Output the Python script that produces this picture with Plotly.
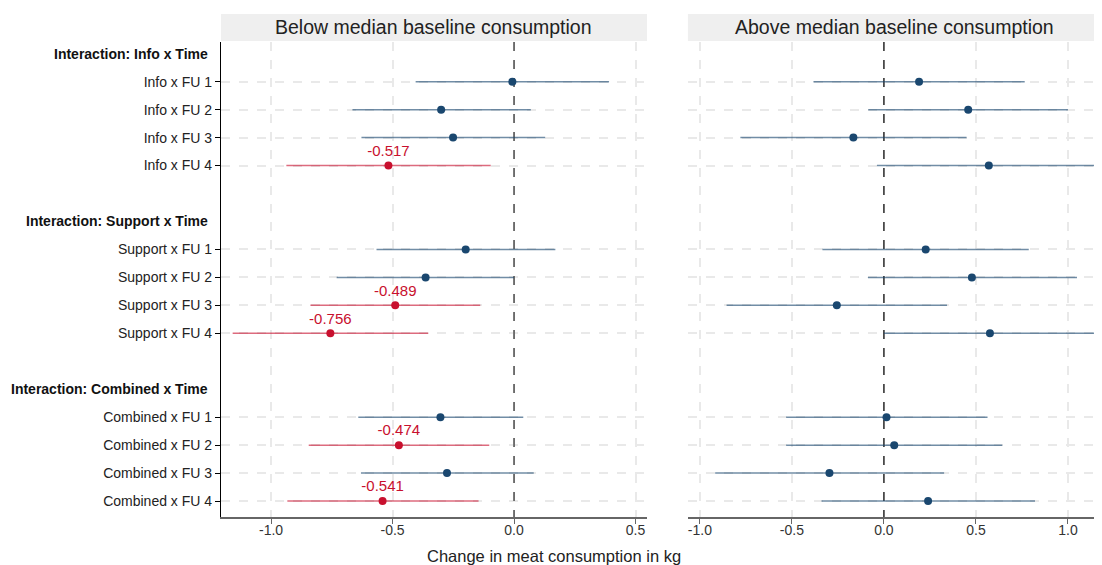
import plotly.graph_objects as go

# ---------------- data ----------------
groups = ["Info", "Support", "Combined"]
headers = ["Interaction: Info x Time", "Interaction: Support x Time", "Interaction: Combined x Time"]
periods = [1, 2, 3, 4]
panel_titles = ["Below median baseline consumption", "Above median baseline consumption"]
x_tick_vals = [-1.0, -0.5, 0.0, 0.5, 1.0]
x_tick_labels = ["-1.0", "-0.5", "0.0", "0.5", "1.0"]

below_est = [-0.007, -0.300, -0.251, -0.517, -0.199, -0.364, -0.489, -0.756, -0.303, -0.474, -0.276, -0.541]
below_lo = [-0.405, -0.665, -0.628, -0.937, -0.566, -0.730, -0.838, -1.158, -0.641, -0.845, -0.630, -0.933]
below_hi = [0.391, 0.069, 0.128, -0.096, 0.170, 0.000, -0.139, -0.353, 0.038, -0.102, 0.081, -0.146]

above_est = [0.191, 0.458, -0.166, 0.570, 0.227, 0.478, -0.256, 0.576, 0.014, 0.056, -0.296, 0.240]
above_lo = [-0.383, -0.085, -0.780, -0.038, -0.334, -0.087, -0.855, 0.000, -0.531, -0.531, -0.917, -0.339]
above_hi = [0.765, 1.000, 0.449, 1.250, 0.787, 1.049, 0.343, 1.160, 0.563, 0.643, 0.327, 0.821]

ref_x = 0.0
x_title = "Change in meat consumption in kg"

# ---------------- layout of rows ----------------
rows = []
for gi, g in enumerate(groups):
    rows.append(headers[gi])
    for p in periods:
        rows.append(f"{g} x FU {p}")
    if gi < len(groups) - 1:
        rows.append(" " * (gi + 1))
items = [f"{g} x FU {p}" for g in groups for p in periods]
item_y = [rows.index(it) for it in items]
header_y = [rows.index(h) for h in headers]

NAVY = "#1a476f"
NAVY_CI = "rgba(26,71,111,0.62)"
RED = "#c8102e"
RED_CI = "rgba(200,16,46,0.62)"
FONT = "Liberation Sans, Arial, sans-serif"

fig = go.Figure()

# zero reference lines (drawn first, under the estimates)
for xa, ya, col, w in [("x", "y", "#555555", 1.6), ("x2", "y2", "black", 1.2)]:
    fig.add_trace(go.Scatter(x=[ref_x, ref_x], y=[-0.42, 16.57], xaxis=xa, yaxis=ya,
                             mode="lines", line=dict(color=col, width=w, dash="dash"),
                             showlegend=False, hoverinfo="skip"))

panels = [(below_est, below_lo, below_hi, "x", "y"), (above_est, above_lo, above_hi, "x2", "y2")]
for est, lo, hi, xa, ya in panels:
    for sig in (False, True):
        idx = [i for i in range(len(est)) if ((hi[i] < 0 or lo[i] > 0) == sig)]
        if not idx:
            continue
        xs = [est[i] for i in idx]
        ys = [item_y[i] for i in idx]
        fig.add_trace(go.Scatter(
            x=xs, y=ys, xaxis=xa, yaxis=ya,
            mode="markers+text" if sig else "markers",
            text=[f"{v:.3f}" for v in xs] if sig else None,
            textposition="top center",
            textfont=dict(color=RED, size=15, family=FONT),
            marker=dict(color=RED if sig else NAVY, size=8),
            error_x=dict(type="data", symmetric=False,
                         array=[hi[i] - est[i] for i in idx],
                         arrayminus=[est[i] - lo[i] for i in idx],
                         color=RED_CI if sig else NAVY_CI, thickness=1.5, width=0),
            showlegend=False,
        ))

H_PLOT = 475
W_PLOT = 881
yr = [16.57, -0.42]
common_x = dict(showgrid=True, gridcolor="#e9e9e9", gridwidth=1.5, griddash="dash",
                zeroline=False, showline=True, linecolor="#666666", linewidth=1.5,
                ticks="outside", ticklen=5, tickcolor="#666666", tickwidth=1,
                tickfont=dict(size=14, color="#333333", family=FONT),
                tickmode="array", tickvals=x_tick_vals, ticktext=x_tick_labels,
                ticklabelstandoff=-6, automargin=False)
common_y = dict(range=yr, tickmode="array", tickvals=item_y, showgrid=True,
                gridcolor="#e9e9e9", gridwidth=1.5, griddash="dash", zeroline=False,
                automargin=False)

# page body has an 8px default margin; compensate so the plot sits where the reference has it
fig.update_layout(
    width=1094, height=557,
    margin=dict(l=213, r=0, t=34, b=48, autoexpand=False),
    plot_bgcolor="white", paper_bgcolor="white",
    font=dict(family=FONT, color="#222222"),
    xaxis=dict(domain=[0, 0.4835], range=[-1.206, 0.547], anchor="y", **common_x),
    xaxis2=dict(domain=[0.530, 1.0], range=[-1.065, 1.185], anchor="y2", **common_x),
    yaxis=dict(ticktext=items, showline=True, linecolor="black", linewidth=1.2,
               ticks="outside", ticklen=5, tickcolor="black", anchor="x",
               tickfont=dict(size=14, color="#222222", family=FONT), **common_y),
    yaxis2=dict(anchor="x2", matches="y", showticklabels=False, ticks="", showline=False, **common_y),
)

# strip headers
s0 = 1 + 1 / H_PLOT
s1 = 1 + 28 / H_PLOT
for xr, t in zip(["x domain", "x2 domain"], panel_titles):
    fig.add_shape(type="rect", xref=xr, yref="paper", x0=0, x1=1, y0=s0, y1=s1,
                  fillcolor="#efefef", line=dict(width=0))
    fig.add_annotation(xref=xr, yref="paper", x=0.5, y=(s0 + s1) / 2, text=t,
                       showarrow=False, font=dict(size=19.5, color="#222222", family=FONT),
                       yanchor="middle")

# group headers
for h, hy in zip(headers, header_y):
    fig.add_annotation(xref="paper", yref="y", x=0, y=hy, text=f"<b>{h}</b>",
                       showarrow=False, xanchor="right", xshift=-11,
                       font=dict(size=14, color="#111111", family=FONT))

# x title
fig.add_annotation(xref="paper", yref="paper", x=(554 - 221) / W_PLOT, y=-39 / H_PLOT, text=x_title,
                   showarrow=False, yanchor="middle",
                   font=dict(size=16.5, color="#222222", family=FONT))

fig.write_html("out.html")
